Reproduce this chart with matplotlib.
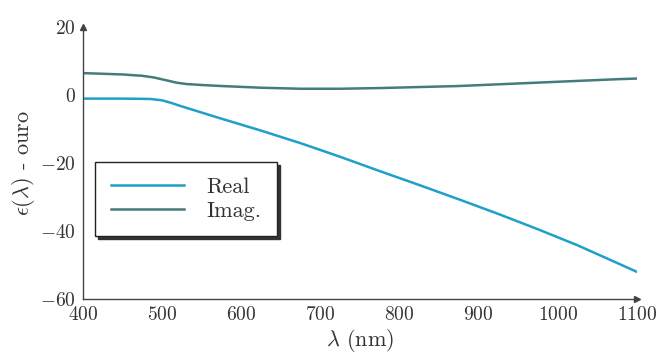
import numpy as np
import matplotlib
matplotlib.use('Agg')
import matplotlib.pyplot as plt

plt.rcParams['font.family'] = 'serif'
plt.rcParams['font.serif'] = ['cmr10', 'DejaVu Serif']
plt.rcParams['mathtext.fontset'] = 'cm'
plt.rcParams['axes.formatter.use_mathtext'] = True

# epsilon do ouro
lam_real = [400, 450, 485, 500, 512, 525, 575, 625, 675, 725, 775, 825, 875, 925, 975, 1025, 1075, 1100]
eps_real = [-1.1, -1.1, -1.2, -1.6, -2.4, -3.4, -7.0, -10.5, -14.2, -18.2, -22.4, -26.5, -30.7, -35.0, -39.5, -44.2, -49.4, -52.0]

lam_imag = [400, 450, 475, 490, 505, 518, 530, 550, 575, 625, 675, 725, 775, 825, 875, 925, 975, 1025, 1075, 1100]
eps_imag = [6.4, 6.0, 5.6, 5.1, 4.3, 3.6, 3.2, 2.9, 2.6, 2.1, 1.8, 1.8, 2.0, 2.3, 2.6, 3.1, 3.6, 4.1, 4.6, 4.8]

xticks = [400, 500, 600, 700, 800, 900, 1000, 1100]
yticks = [-60, -40, -20, 0, 20]

c_real = '#1ea0c8'
c_imag = '#447c7c'

fig = plt.figure(figsize=(6.64, 3.53), dpi=100)
ax = fig.add_axes([0.125, 0.153, 0.834, 0.771])

ax.plot(lam_real, eps_real, color=c_real, lw=1.8, label='Real')
ax.plot(lam_imag, eps_imag, color=c_imag, lw=1.8, label='Imag.')

ax.set_xlim(400, 1100)
ax.set_ylim(-60, 20)
ax.set_xticks(xticks)
ax.set_yticks(yticks)
ax.tick_params(length=0, labelsize=14, colors='#333333', pad=5)

for s in ['top', 'right']:
    ax.spines[s].set_visible(False)
for s in ['left', 'bottom']:
    ax.spines[s].set_color('#444444')
    ax.spines[s].set_linewidth(1.0)

# setas nos eixos
ax.plot(1, 0, '>', color='#444444', ms=5, transform=ax.transAxes, clip_on=False)
ax.plot(0, 1, '^', color='#444444', ms=5, transform=ax.transAxes, clip_on=False)

ax.set_xlabel(r'$\lambda$ (nm)', fontsize=16, color='#333333', labelpad=2)
ax.set_ylabel(r'$\epsilon(\lambda)$ - ouro', fontsize=16, color='#333333', labelpad=2)

leg = ax.legend(loc='upper left', bbox_to_anchor=(0.022, 0.504), fontsize=16,
                fancybox=False, shadow={'color': '#333333', 'alpha': 1},
                edgecolor='#222222', framealpha=1, handlelength=3.3,
                borderpad=0.7, labelspacing=0.2, handletextpad=1.0,
                borderaxespad=0)
leg.get_frame().set_linewidth(1.0)
for t in leg.get_texts():
    t.set_color('#333333')

fig.savefig('out.png', dpi=100)
